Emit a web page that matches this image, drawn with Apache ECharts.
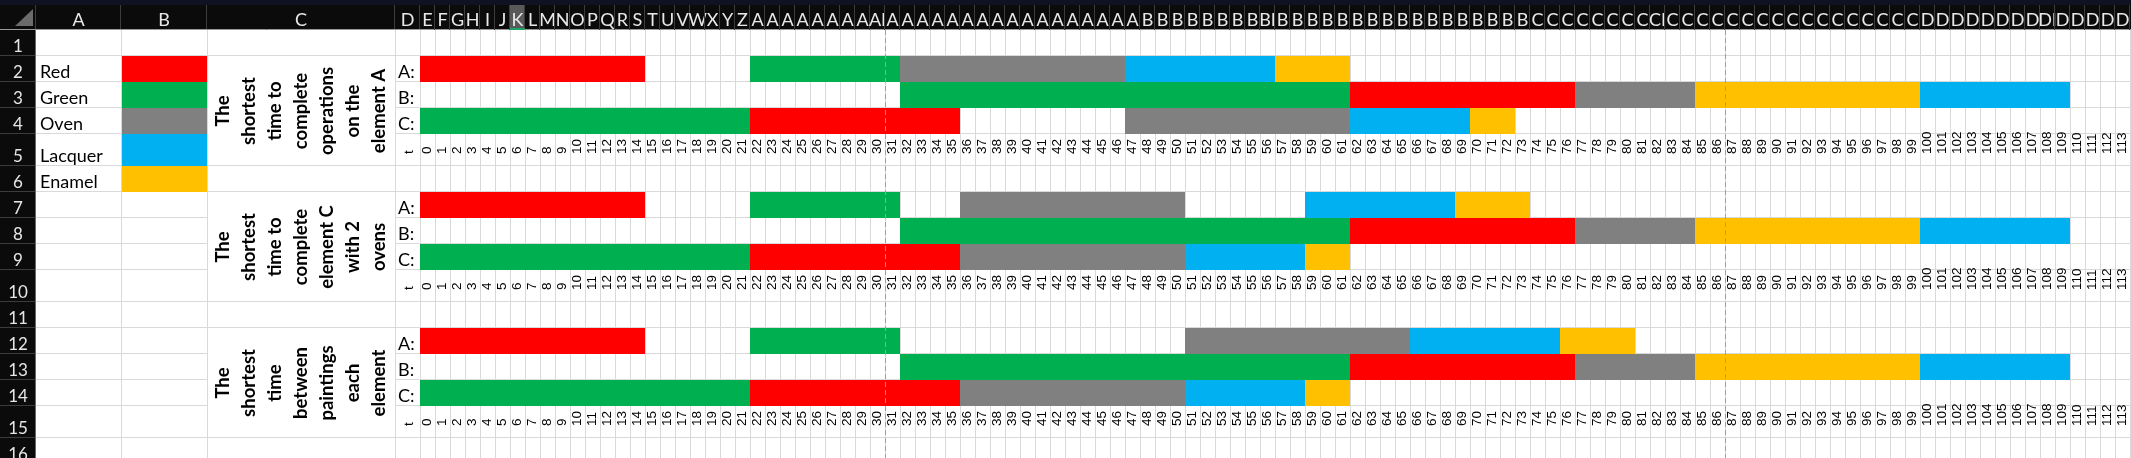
<!DOCTYPE html>
<html><head><meta charset="utf-8">
<script src="https://cdn.jsdelivr.net/npm/echarts@6/dist/echarts.min.js"></script>
<style>html,body{margin:0;padding:0;background:#fff;overflow:hidden}#chart{width:2131px;height:458px}</style>
</head><body><div id="chart"></div>
<script>
// ================= DATA =================
const processNames = ['Red', 'Green', 'Oven', 'Lacquer', 'Enamel'];
const elementLabels = ['A:', 'B:', 'C:'];
const sectionTitles = [
  'The\nshortest\ntime to\ncomplete\noperations\non the\nelement A',
  'The\nshortest\ntime to\ncomplete\nelement C\nwith 2\novens',
  'The\nshortest\ntime\nbetween\npaintings\neach\nelement'
];
const timeTicks = Array.from({length: 114}, (_, i) => i);
const timeAxisTitle = 't';
const pageBreaks = [31, 87];

// schedules: [process, start, end (exclusive)]
const s1A = [['Red',0,15],['Green',22,32],['Oven',32,47],['Lacquer',47,57],['Enamel',57,62]];
const s1B = [['Green',32,62],['Red',62,77],['Oven',77,85],['Enamel',85,100],['Lacquer',100,110]];
const s1C = [['Green',0,22],['Red',22,36],['Oven',47,62],['Lacquer',62,70],['Enamel',70,73]];
const s2A = [['Red',0,15],['Green',22,32],['Oven',36,51],['Lacquer',59,69],['Enamel',69,74]];
const s2B = [['Green',32,62],['Red',62,77],['Oven',77,85],['Enamel',85,100],['Lacquer',100,110]];
const s2C = [['Green',0,22],['Red',22,36],['Oven',36,51],['Lacquer',51,59],['Enamel',59,62]];
const s3A = [['Red',0,15],['Green',22,32],['Oven',51,66],['Lacquer',66,76],['Enamel',76,81]];
const s3B = [['Green',32,62],['Red',62,77],['Oven',77,85],['Enamel',85,100],['Lacquer',100,110]];
const s3C = [['Green',0,22],['Red',22,36],['Oven',36,51],['Lacquer',51,59],['Enamel',59,62]];

// ================= LAYOUT / STYLE =================
const W = 2131, H = 458;
const HDR_TOP = 5, HDR_H = 30;
const ROW_H = [26,26,26,26,32,26,26,26,26,32,26,26,26,26,32,26];
const ROWHDR_W = 36;
const LEFT_COLS = [{name:'A',x0:36,x1:121},{name:'B',x0:121,x1:207},{name:'C',x0:207,x1:395},{name:'D',x0:395,x1:420}];
const TIME_X0 = 420, TIME_COL_W = 15;
const FIRST_TIME_COL = 5; // column E
const SELECTED_COL = 6;   // column K highlighted
const SECTION_ROWS = [[2,3,4],[7,8,9],[12,13,14]];
const TICK_ROWS = [5,10,15];
const MERGES = [[2,5],[7,10],[12,15]];
const LEGEND_ROWS = [2,3,4,5,6];
const COLORS = {Red:'#FF0000', Green:'#00B050', Oven:'#808080', Lacquer:'#00B0F0', Enamel:'#FFC000'};
const GRID_C = '#d9d9d9';
const UI_FONT = 'Lato, "Noto Sans", sans-serif';
const TICK_FONT = '13.5px "Liberation Sans", Arial, sans-serif';

const cum = [0];
ROW_H.forEach(h => cum.push(cum[cum.length - 1] + h));
const rowTop = r => cum[r - 1];
const rowBot = r => cum[r];

function colName(n) {
  let s = '';
  while (n > 0) { const m = (n - 1) % 26; s = String.fromCharCode(65 + m) + s; n = Math.floor((n - 1) / 26); }
  return s;
}

// ---------- bar data built from schedules ----------
const schedules = [[s1A, s1B, s1C], [s2A, s2B, s2C], [s3A, s3B, s3C]];
const barData = [];
schedules.forEach((sec, k) => sec.forEach((segs, e) => segs.forEach(([p, s, f]) => {
  barData.push([s, SECTION_ROWS[k][e], f, processNames.indexOf(p)]);
})));
const tickData = [];
TICK_ROWS.forEach(r => timeTicks.forEach((t, i) => tickData.push([i, r])));
const headerData = timeTicks.map((t, i) => [i, 0]);

// ---------- graphic frame (spreadsheet chrome, legend, titles) ----------
const g = [];
const gLine = (x1, y1, x2, y2, stroke, z = 0) => g.push({type:'line', z, silent:true, shape:{x1, y1, x2, y2}, style:{stroke, lineWidth:1}});
const gRect = (x, y, w, h, fill, z = 0) => g.push({type:'rect', z, silent:true, shape:{x, y, width:w, height:h}, style:{fill}});
const gText = (x, y, t, font, fill, align, va, z = 3, rotation = 0, extra = {}) =>
  g.push({type:'text', z, silent:true, x, y, rotation, style:Object.assign({text:t, font, fill, align, verticalAlign:va}, extra)});

// header
gRect(0, 0, W, HDR_TOP, '#0e1222', 0);
gRect(0, HDR_TOP, W, HDR_H - HDR_TOP, '#0b0b0b', 0);
g.push({type:'polygon', z:1, silent:true, shape:{points:[[15,26],[33,26],[33,9]]}, style:{fill:'#6b6b6b'}});
gLine(ROWHDR_W - 0.5, HDR_TOP, ROWHDR_W - 0.5, HDR_H, '#3c3c3c', 1);
LEFT_COLS.forEach(c => {
  gLine(c.x1 - 0.5, HDR_TOP, c.x1 - 0.5, HDR_H, '#3c3c3c', 1);
  gText((c.x0 + c.x1) / 2, 20, c.name, '18px ' + UI_FONT, '#e8e8e8', 'center', 'middle', 2);
});
// row header
gRect(0, HDR_H, ROWHDR_W, H - HDR_H, '#0b0b0b', 0);
for (let r = 1; r <= ROW_H.length; r++) {
  gLine(0, HDR_H + rowBot(r) - 0.5, ROWHDR_W, HDR_H + rowBot(r) - 0.5, '#3c3c3c', 1);
  gText(ROWHDR_W / 2, HDR_H + rowBot(r) - 1, String(r), '17px ' + UI_FONT, '#e6e6e6', 'center', 'bottom', 2);
}
gLine(ROWHDR_W - 0.5, HDR_H, ROWHDR_W - 0.5, H, '#6a6a6a', 1);
gLine(0, HDR_H - 0.5, W, HDR_H - 0.5, '#9a9a9a', 1);

// gridlines of the left columns
[121, 207, 395].forEach(x => gLine(x + 0.5, HDR_H, x + 0.5, H, GRID_C, 0));
const mergeInterior = new Set();
MERGES.forEach(([a, b]) => { for (let r = a; r < b; r++) mergeInterior.add(r); });
for (let r = 1; r <= ROW_H.length; r++) {
  const y = HDR_H + rowBot(r) - 0.5;
  gLine(ROWHDR_W, y, 207, y, GRID_C, 0);
  if (!mergeInterior.has(r)) gLine(207, y, 395, y, GRID_C, 0);
  gLine(395, y, W, y, GRID_C, 0);
}

// legend (columns A & B)
LEGEND_ROWS.forEach((r, i) => {
  gRect(122, HDR_H + rowTop(r), 85, ROW_H[r - 1], COLORS[processNames[i]], 1);
  gText(40, HDR_H + rowBot(r) - 1, processNames[i], '18px ' + UI_FONT, '#000', 'left', 'bottom', 3);
});

// merged titles (column C)
MERGES.forEach(([a, b], k) => {
  const cy = HDR_H + (rowTop(a) + rowBot(b)) / 2;
  gText(301, cy, sectionTitles[k], 'bold 18.5px ' + UI_FONT, '#000', 'center', 'middle', 3, Math.PI / 2, {lineHeight: 26});
});

// element labels and axis title (column D)
SECTION_ROWS.forEach(rows => rows.forEach((r, e) => {
  gText(398, HDR_H + rowBot(r) - 1, elementLabels[e], '18px ' + UI_FONT, '#000', 'left', 'bottom', 3);
}));
TICK_ROWS.forEach(r => gText(409, HDR_H + rowBot(r) - 12, timeAxisTitle, TICK_FONT, '#000', 'left', 'middle', 3, Math.PI / 2));

// ================= CHART =================
const chart = echarts.init(document.getElementById('chart'), null, {renderer:'canvas', width:W, height:H});

chart.setOption({
  animation: false,
  backgroundColor: '#ffffff',
  grid: {left: TIME_X0, top: HDR_H, width: timeTicks.length * TIME_COL_W, height: H - HDR_H, containLabel: false, outerBoundsMode: 'none'},
  xAxis: {
    type: 'value', min: 0, max: timeTicks.length, interval: 1,
    axisLine: {show:false}, axisTick: {show:false}, axisLabel: {show:false},
    splitLine: {show:true, lineStyle:{color: GRID_C, width:1}}
  },
  yAxis: {type:'value', min:0, max: H - HDR_H, inverse:true, show:false},
  graphic: g,
  series: [
    {
      name: 'schedule', type: 'custom', clip: false, silent: true, z: 2,
      data: barData,
      renderItem(params, api) {
        const s = api.value(0), r = api.value(1), f = api.value(2), p = api.value(3);
        const a = api.coord([s, rowTop(r)]), b = api.coord([f, rowBot(r)]);
        return {type:'rect', shape:{x:a[0], y:a[1], width:b[0]-a[0], height:b[1]-a[1]}, style:{fill: COLORS[processNames[p]]}};
      },
      markLine: {
        silent: true, symbol: ['none','none'], z: 5,
        label: {show:false},
        lineStyle: {color:'#9e9e9e', type:[5,3], width:1},
        emphasis: {disabled:true},
        data: pageBreaks.map(v => ({xAxis: v}))
      }
    },
    {
      name: 'ticks', type: 'custom', clip: false, silent: true, z: 3,
      data: tickData,
      renderItem(params, api) {
        const i = api.value(0), r = api.value(1);
        const c = api.coord([i + 0.5, rowBot(r)]);
        return {type:'text', x:c[0], y:c[1] - 12, rotation: Math.PI / 2,
          style:{text:String(timeTicks[i]), fill:'#000', font: TICK_FONT, align:'left', verticalAlign:'middle'}};
      }
    },
    {
      name: 'columnHeader', type: 'custom', clip: false, silent: true, z: 4,
      data: headerData,
      renderItem(params, api) {
        const i = api.value(0);
        const xL = api.coord([i, 0])[0], xR = api.coord([i + 1, 0])[0];
        const sel = i === SELECTED_COL;
        const children = [];
        if (sel) children.push({type:'rect', shape:{x:xL, y:HDR_TOP, width:xR-xL, height:HDR_H-HDR_TOP}, style:{fill:'#595959'}});
        children.push({type:'text', x:(xL + xR) / 2, y:20,
          style:{text: colName(FIRST_TIME_COL + i), fill:'#e8e8e8', font:'18px ' + UI_FONT, align:'center', verticalAlign:'middle',
                 width: 20, overflow: 'truncate', ellipsis: ''}});
        children.push({type:'line', shape:{x1:xR-0.5, y1:HDR_TOP, x2:xR-0.5, y2:HDR_H}, style:{stroke:'#3c3c3c', lineWidth:1}});
        if (sel) children.push({type:'rect', shape:{x:xL, y:HDR_H-2, width:xR-xL, height:2}, style:{fill:'#21a366'}});
        return {type:'group', children};
      }
    }
  ]
});
</script>
</body></html>
